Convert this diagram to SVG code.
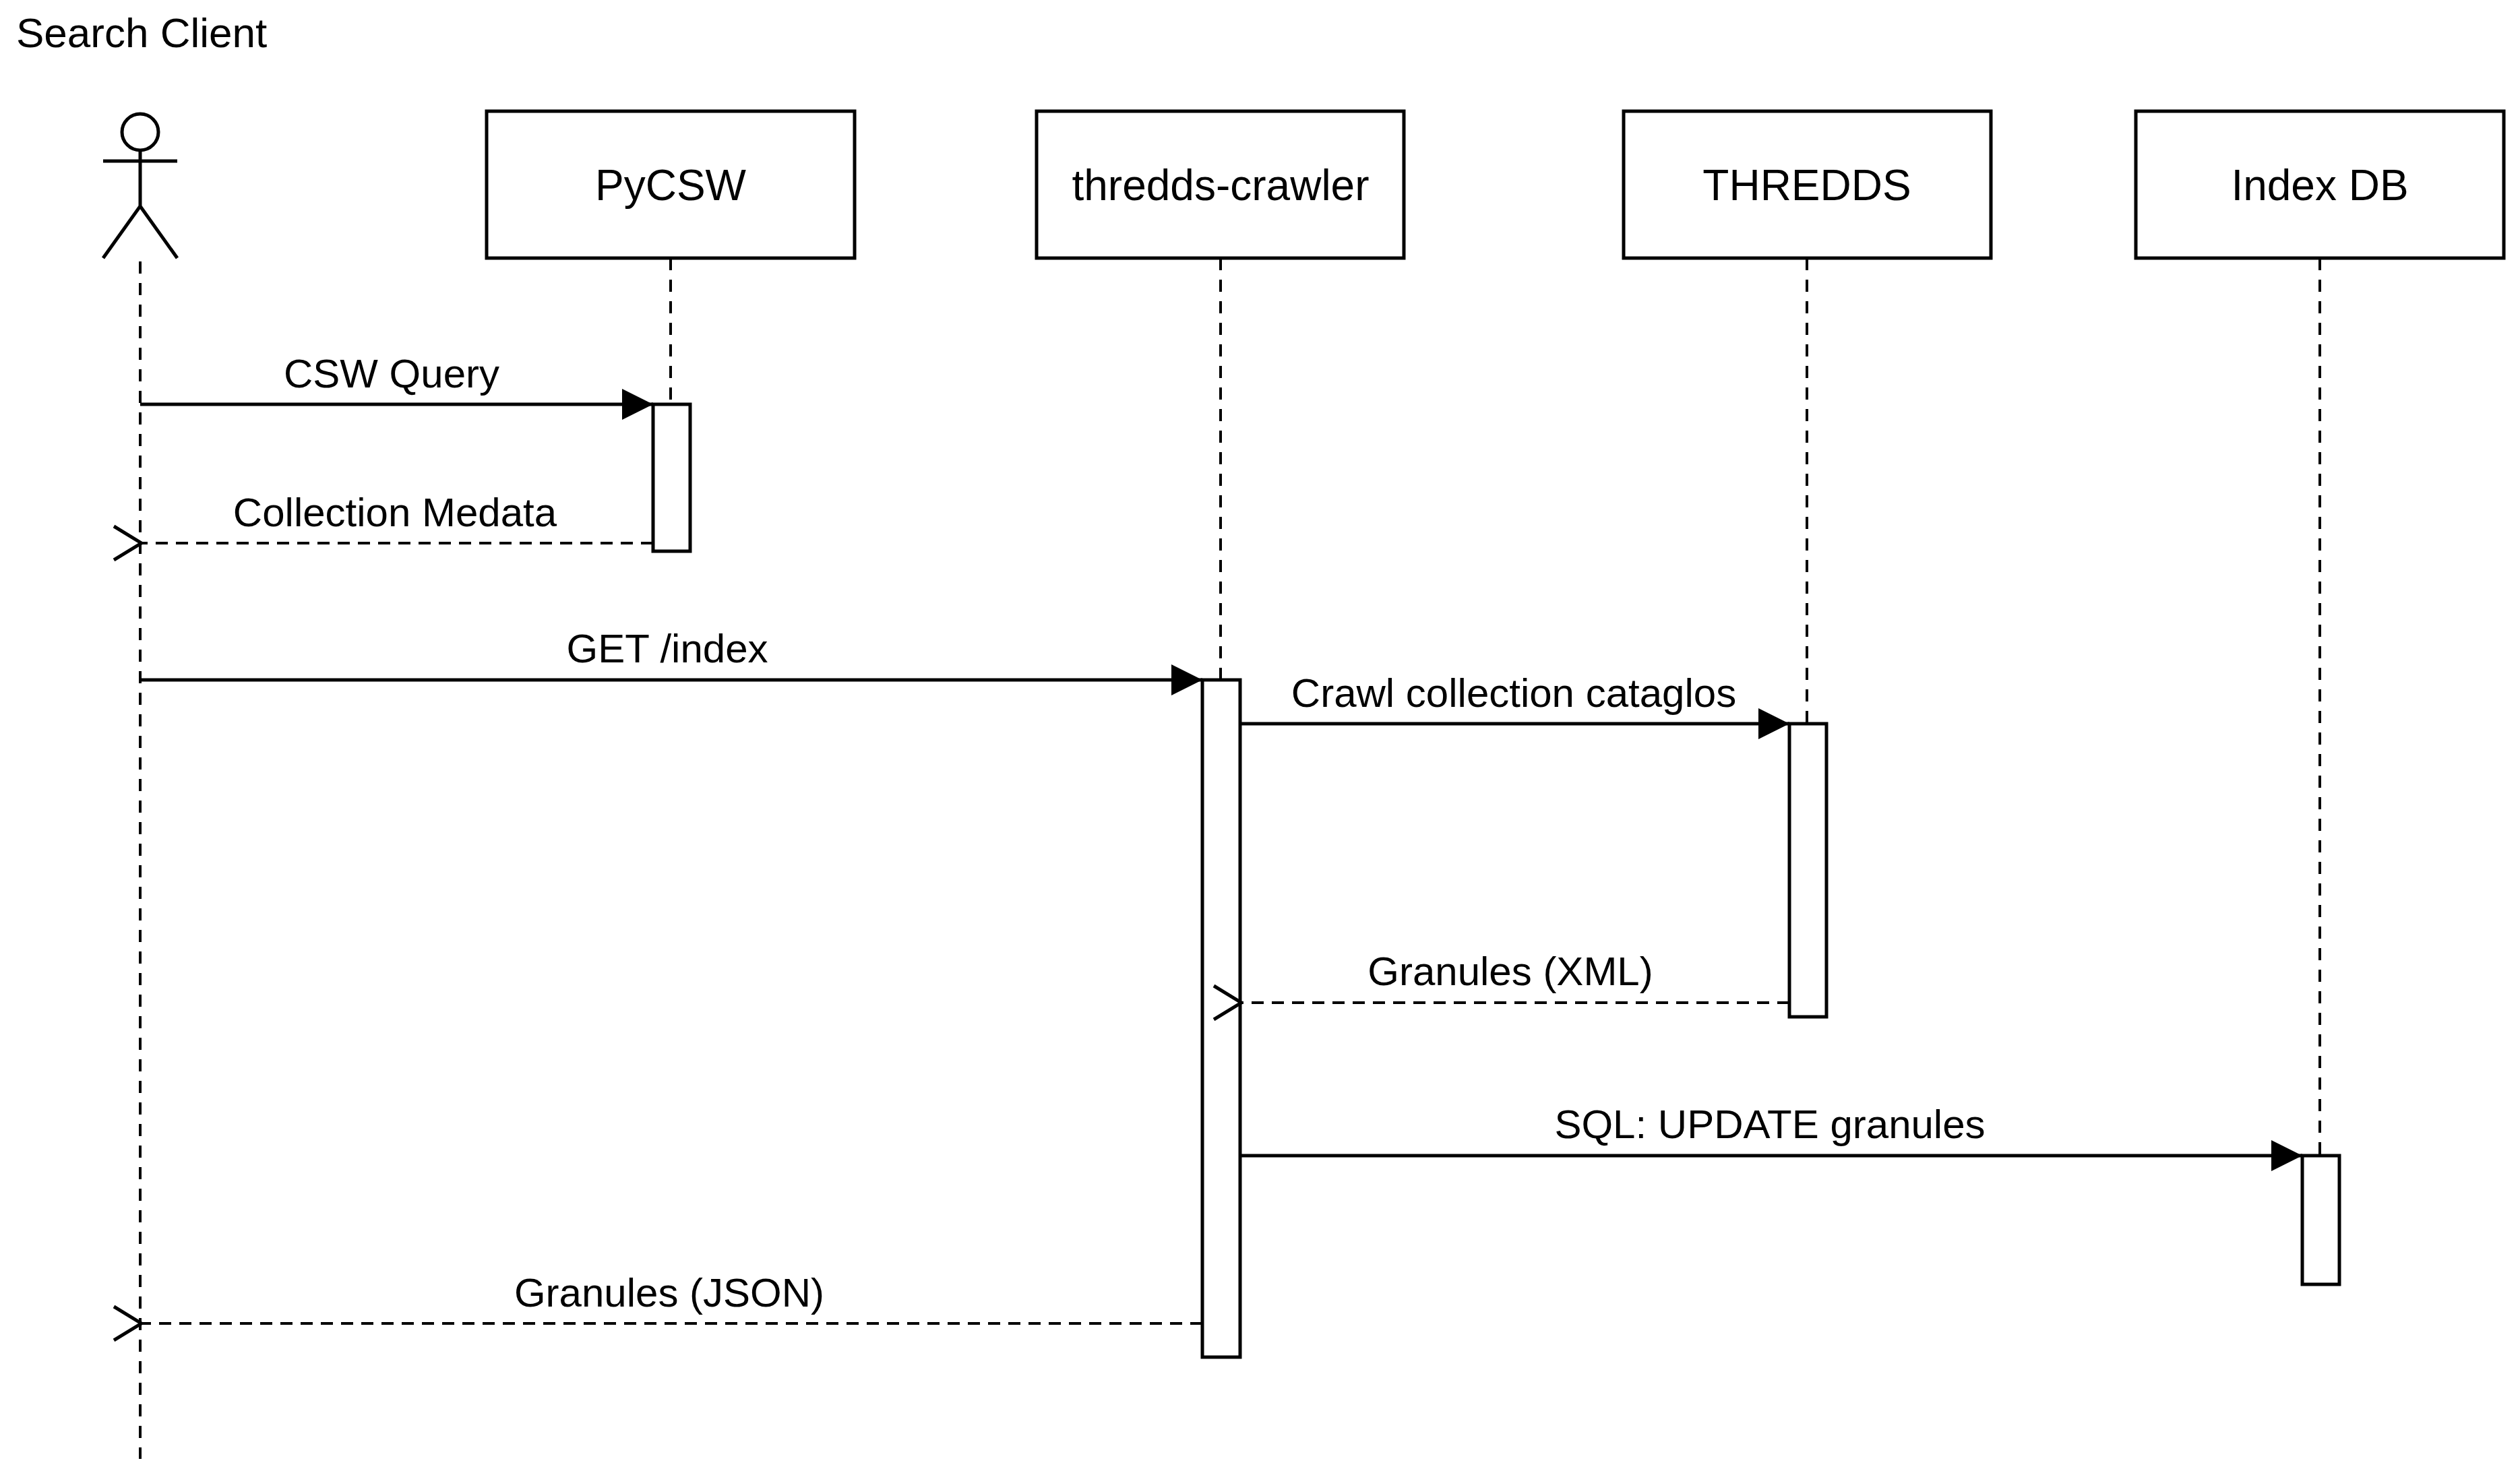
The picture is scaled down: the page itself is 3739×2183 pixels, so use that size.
<svg xmlns="http://www.w3.org/2000/svg" width="3739" height="2183" viewBox="0 0 3739 2183">
<style>
text{font-family:"Liberation Sans",Arial,sans-serif;fill:#000}
.box{fill:#fff;stroke:#000;stroke-width:5}
.life{stroke:#000;stroke-width:4;stroke-dasharray:18 14;fill:none}
.msg{stroke:#000;stroke-width:5;fill:none}
.ret{stroke:#000;stroke-width:4;stroke-dasharray:18 12;fill:none}
.lbl{font-size:60px;text-anchor:middle}
.nm{font-size:64px;text-anchor:middle}
</style>
<defs>
<marker id="fill" markerUnits="userSpaceOnUse" markerWidth="50" markerHeight="50" refX="46" refY="23" orient="auto"><path d="M0,0 L46,23 L0,46 Z" fill="#000"/></marker>
<marker id="open" markerUnits="userSpaceOnUse" markerWidth="50" markerHeight="60" refX="3" refY="27" orient="auto"><path d="M44,2 L3,27 L44,52" fill="none" stroke="#000" stroke-width="5"/></marker>
</defs>
<rect width="3739" height="2183" fill="#fff"/>
<g id="actor">
<text x="24" y="70" font-size="62">Search Client</text>
<circle cx="208" cy="196" r="27" fill="#fff" stroke="#000" stroke-width="5"/>
<path d="M153,239 H263 M208,223 V306 L153,383 M208,306 L263,383" stroke="#000" stroke-width="5" fill="none"/>
<line class="life" x1="208" y1="388" x2="208" y2="2165"/>
</g>
<g id="pycsw">
<rect class="box" x="722" y="165" width="546" height="218"/>
<text class="nm" x="995" y="297">PyCSW</text>
<line class="life" x1="995" y1="383" x2="995" y2="600"/>
<rect class="box" x="969" y="600" width="55" height="218"/>
</g>
<g id="crawler">
<rect class="box" x="1538" y="165" width="545" height="218"/>
<text class="nm" x="1811" y="297">thredds-crawler</text>
<line class="life" x1="1811" y1="383" x2="1811" y2="1009"/>
<rect class="box" x="1784" y="1009" width="56" height="1005"/>
</g>
<g id="thredds">
<rect class="box" x="2409" y="165" width="545" height="218"/>
<text class="nm" x="2681" y="297">THREDDS</text>
<line class="life" x1="2681" y1="383" x2="2681" y2="1074"/>
<rect class="box" x="2655" y="1074" width="55" height="435"/>
</g>
<g id="indexdb">
<rect class="box" x="3169" y="165" width="546" height="218"/>
<text class="nm" x="3442" y="297">Index DB</text>
<line class="life" x1="3442" y1="383" x2="3442" y2="1715"/>
<rect class="box" x="3416" y="1715" width="55" height="191"/>
</g>
<g id="connectors">
<line class="msg" x1="208" y1="600" x2="969" y2="600" marker-end="url(#fill)"/>
<text class="lbl" x="581" y="575">CSW Query</text>
<line class="ret" x1="969" y1="806" x2="210" y2="806" marker-end="url(#open)"/>
<text class="lbl" x="586" y="781">Collection Medata</text>
<line class="msg" x1="208" y1="1009" x2="1784" y2="1009" marker-end="url(#fill)"/>
<text class="lbl" x="990" y="983">GET /index</text>
<line class="msg" x1="1840" y1="1074" x2="2655" y2="1074" marker-end="url(#fill)"/>
<text class="lbl" x="2246" y="1049">Crawl collection cataglos</text>
<line class="ret" x1="2655" y1="1488" x2="1842" y2="1488" marker-end="url(#open)"/>
<text class="lbl" x="2241" y="1462">Granules (XML)</text>
<line class="msg" x1="1840" y1="1715" x2="3416" y2="1715" marker-end="url(#fill)"/>
<text class="lbl" x="2626" y="1689">SQL: UPDATE granules</text>
<line class="ret" x1="1784" y1="1964" x2="210" y2="1964" marker-end="url(#open)"/>
<text class="lbl" x="993" y="1939">Granules (JSON)</text>
</g>
</svg>
